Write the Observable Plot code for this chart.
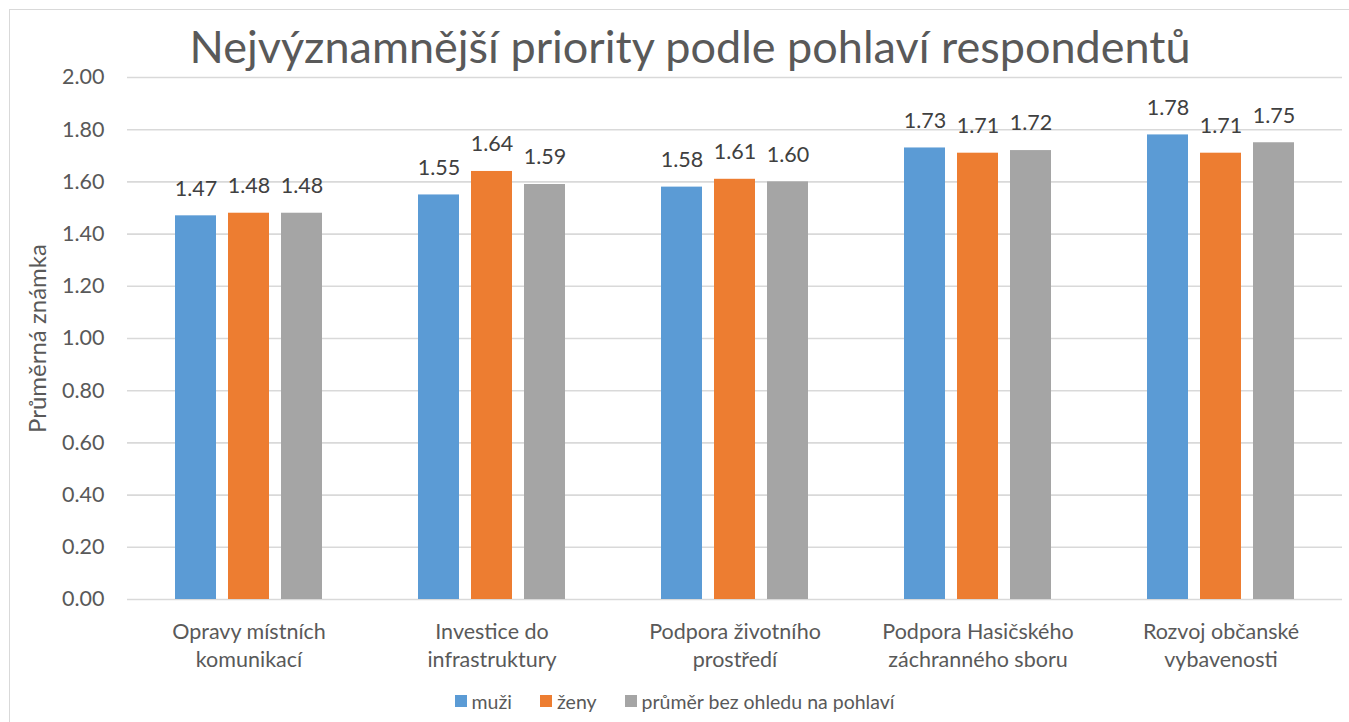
<!DOCTYPE html>
<html>
<head>
<meta charset="utf-8">
<script src="https://cdn.jsdelivr.net/npm/d3@7"></script>
<script src="https://cdn.jsdelivr.net/npm/@observablehq/plot@0.6"></script>
<style>
  html, body { margin: 0; padding: 0; background: #fff; }
  #chart {
    position: relative; width: 1349px; height: 722px; overflow: hidden;
    font-family: Lato, "Open Sans", sans-serif; color: #595959; background: #fff;
  }
  #frame {
    position: absolute; left: 9px; top: 9px; width: 1360px; height: 740px;
    border: 1.5px solid #d9d9d9; box-sizing: border-box; pointer-events: none;
  }
  #title {
    height: 60px; padding-left: 31px; box-sizing: border-box;
    text-align: center; font-size: 45px; color: #595959; white-space: nowrap;
  }
  #title span { display: inline-block; line-height: 46px; position: relative; top: 19px; }
  #plot svg { display: block; }
  #legend {
    height: 42px; display: flex; justify-content: center; align-items: center;
    font-size: 19.5px; color: #595959; padding-left: 0px;
  }
  .item { display: flex; align-items: center; margin: 0 14px; }
  .sw { width: 12px; height: 12px; margin-right: 5px; display: inline-block; }
</style>
</head>
<body>
<div id="chart">
  <div id="frame"></div>
  <div id="title"><span>Nejvýznamnější priority podle pohlaví respondentů</span></div>
  <div id="plot"></div>
  <div id="legend"></div>
</div>
<script>
const categories = [
  "Opravy místních\nkomunikací",
  "Investice do\ninfrastruktury",
  "Podpora životního\nprostředí",
  "Podpora Hasičského\nzáchranného sboru",
  "Rozvoj občanské\nvybavenosti"
];
const seriesNames = ["muži", "ženy", "průměr bez ohledu na pohlaví"];
const seriesColors = ["#5B9BD5", "#ED7D31", "#A5A5A5"];
const muzi = [1.47, 1.55, 1.58, 1.73, 1.78];
const zeny = [1.48, 1.64, 1.61, 1.71, 1.71];
const prumer = [1.48, 1.59, 1.60, 1.72, 1.75];
const yTicks = [0, 0.2, 0.4, 0.6, 0.8, 1.0, 1.2, 1.4, 1.6, 1.8, 2.0];
const yLabel = "Průměrná známka";

const seriesValues = [muzi, zeny, prumer];
const data = [];
categories.forEach((c, i) => {
  seriesNames.forEach((s, j) => {
    data.push({category: c, series: s, value: seriesValues[j][i]});
  });
});

const fontFamily = 'Lato, "Open Sans", sans-serif';

const plot = Plot.plot({
  width: 1349,
  height: 620,
  marginTop: 17,
  marginBottom: 81,
  marginLeft: 126,
  marginRight: 6,
  style: {fontFamily, fontSize: "21px", color: "#595959", background: "transparent"},
  fx: {domain: categories, padding: 0},
  x: {domain: seriesNames, paddingInner: 0.217, paddingOuter: 0.862, axis: null},
  y: {domain: [0, 2], ticks: yTicks},
  color: {domain: seriesNames, range: seriesColors},
  marks: [
    Plot.gridY(yTicks, {stroke: "#d9d9d9", strokeOpacity: 1, strokeWidth: 1.6}),
    Plot.axisY(yTicks, {
      tickSize: 0, tickPadding: 23, tickFormat: d => d.toFixed(2),
      fontSize: 21.5, fill: "#595959", label: null
    }),
    Plot.text([{fx: categories[0], t: yLabel}], {
      fx: "fx", text: "t", frameAnchor: "left", rotate: -90,
      textAnchor: "middle", lineAnchor: "middle",
      dx: -89, fontSize: 24, fill: "#595959"
    }),
    Plot.axisFx({
      anchor: "bottom", tickSize: 0, tickPadding: 19, lineHeight: 1.32,
      fontSize: 21.5, fill: "#595959", label: null
    }),
    Plot.barY(data, {fx: "category", x: "series", y: "value", fill: "series"}),
    Plot.text(data, {
      fx: "category", x: "series", y: "value", text: d => d.value.toFixed(2),
      dy: -27, fontSize: 21.5, fill: "#404040", lineAnchor: "middle"
    })
  ]
});
document.getElementById("plot").appendChild(plot);

const legend = document.getElementById("legend");
seriesNames.forEach((s, j) => {
  const item = document.createElement("span");
  item.className = "item";
  const sw = document.createElement("span");
  sw.className = "sw";
  sw.style.background = seriesColors[j];
  item.appendChild(sw);
  item.appendChild(document.createTextNode(s));
  legend.appendChild(item);
});
</script>
</body>
</html>
